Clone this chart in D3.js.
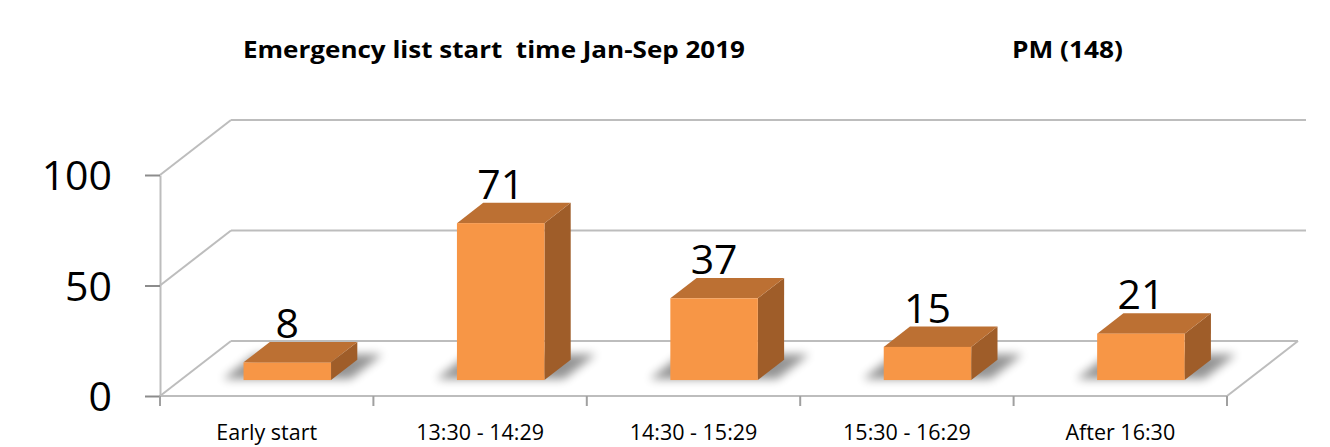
<!DOCTYPE html>
<html>
<head>
<meta charset="utf-8">
<script src="https://cdn.jsdelivr.net/npm/d3@7"></script>
<style>
  html, body { margin: 0; padding: 0; background: #fff; }
  svg { display: block; }
  text { font-family: "Open Sans", "Noto Sans", sans-serif; fill: #000; }
</style>
</head>
<body>
<svg id="chart" width="1330" height="447"></svg>
<script>
// Emergency list start times, PM sessions
const categories = ["Early start", "13:30 - 14:29", "14:30 - 15:29", "15:30 - 16:29", "After 16:30"];
const counts = [8, 71, 37, 15, 21];
const yTicks = [0, 50, 100];
const titleText = "Emergency list start  time Jan-Sep 2019";
const subtitleText = "PM (148)";

const svg = d3.select("#chart");

// front plane scales
const x = d3.scaleBand().domain(categories).range([160, 1227]);
const y = d3.scaleLinear().domain([0, 100]).range([396, 175]);

// oblique depth offset of the back wall
const DX = 71, DY = 55;
const P = (xf, yf, d) => [xf + d * DX, yf - d * DY];

const gridColor = "#bdbdbd";
const defs = svg.append("defs");
defs.append("filter").attr("id", "shadowBlur")
  .attr("x", "-50%").attr("y", "-50%").attr("width", "200%").attr("height", "200%")
  .append("feGaussianBlur").attr("stdDeviation", 5);

// titles
svg.append("text").attr("x", 243).attr("y", 58)
  .attr("font-size", 24).attr("font-weight", 700)
  .attr("textLength", 502).attr("lengthAdjust", "spacingAndGlyphs")
  .style("white-space", "pre")
  .text(titleText);
svg.append("text").attr("x", 1012).attr("y", 58)
  .attr("font-size", 24).attr("font-weight", 700)
  .attr("textLength", 111).attr("lengthAdjust", "spacingAndGlyphs")
  .text(subtitleText);

const walls = svg.append("g").attr("fill", "none").attr("stroke", gridColor).attr("stroke-width", 2);
const [x0, x1] = x.range();

// back-wall gridlines and left-wall diagonals
yTicks.forEach(v => {
  const a = P(x0, y(v), 1), b = P(x1, y(v), 1);
  const bx = v > 0 ? b[0] + 8 : b[0];
  walls.append("line").attr("x1", a[0]).attr("y1", a[1]).attr("x2", bx).attr("y2", b[1]);
  walls.append("line").attr("x1", x0).attr("y1", y(v)).attr("x2", a[0]).attr("y2", a[1]);
});
// floor front and right edges
{
  const br = P(x1, y(0), 1);
  walls.append("line").attr("x1", x0).attr("y1", y(0)).attr("x2", x1).attr("y2", y(0));
  walls.append("line").attr("x1", x1).attr("y1", y(0)).attr("x2", br[0]).attr("y2", br[1]);
}

// y axis
const yAxis = svg.append("g").attr("transform", `translate(${x0},0)`)
  .call(d3.axisLeft(y).tickValues(yTicks).tickSize(15).tickPadding(33).tickSizeOuter(0));
yAxis.select(".domain").attr("stroke", gridColor).attr("stroke-width", 2);
yAxis.selectAll(".tick line").attr("stroke", "#8c8c8c").attr("stroke-width", 2);
yAxis.selectAll(".tick text").attr("font-size", 41).attr("dy", "0.36em")
  .style("font-family", "'Open Sans', sans-serif").attr("fill", "#000");

// x axis: category labels centred under each band, ticks at band edges
const xAxis = svg.append("g").attr("transform", `translate(0,${y(0)})`)
  .call(d3.axisBottom(x).tickSize(0).tickPadding(29));
xAxis.select(".domain").remove();
xAxis.selectAll(".tick text").attr("font-size", 21.5).attr("dy", "0.71em")
  .style("font-family", "'Open Sans', sans-serif").attr("fill", "#000");
const edges = categories.map(c => x(c)).concat([x1]);
svg.append("g").selectAll("line").data(edges).join("line")
  .attr("x1", d => d).attr("x2", d => d).attr("y1", y(0)).attr("y2", y(0) + 10)
  .attr("stroke", "#a0a0a0").attr("stroke-width", 2);

// 3D bars
const D0 = 0.29, D1 = 0.66;
const barW = x.bandwidth() * 0.41;
const data = categories.map((c, i) => ({ c, v: counts[i] }));
const pts = arr => arr.map(p => p.join(",")).join(" ");

const bars = svg.append("g").selectAll("g").data(data).join("g");

bars.each(function(d) {
  const g = d3.select(this);
  const cx = x(d.c) + x.bandwidth() / 2;
  const l = cx - barW / 2, r = cx + barW / 2;
  const yb = y(0), yt = y(d.v);
  // soft floor shadow
  g.append("polygon")
    .attr("points", pts([P(l - 22, yb, D0 + 0.02), P(r + 18, yb, D0 + 0.02), P(r + 18, yb, D1 + 0.1), P(l - 22, yb, D1 + 0.1)]))
    .attr("fill", "#000").attr("opacity", 0.42).attr("filter", "url(#shadowBlur)");
  // right side face
  g.append("polygon")
    .attr("points", pts([P(r, yb, D0), P(r, yb, D1), P(r, yt, D1), P(r, yt, D0)]))
    .attr("fill", "#9f5d29");
  // top face
  g.append("polygon")
    .attr("points", pts([P(l, yt, D0), P(r, yt, D0), P(r, yt, D1), P(l, yt, D1)]))
    .attr("fill", "#bc7033");
  // front face
  const f0 = P(l, yt, D0), f1 = P(r, yb, D0);
  g.append("rect").attr("x", f0[0]).attr("y", f0[1])
    .attr("width", f1[0] - f0[0]).attr("height", f1[1] - f0[1])
    .attr("fill", "#f79646");
  // value label
  const lp = P(cx, yt, D0);
  g.append("text").attr("x", lp[0]).attr("y", P(cx, yt, D1)[1] - 4)
    .attr("text-anchor", "middle").attr("font-size", 41)
    .text(d.v);
});
</script>
</body>
</html>
